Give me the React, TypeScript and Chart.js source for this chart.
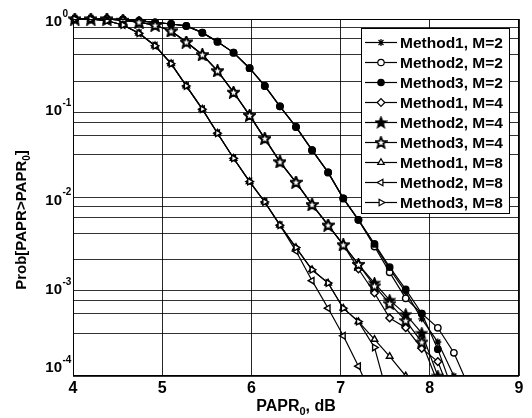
import React, { useEffect, useRef } from 'react';
import { Chart, registerables } from 'chart.js';
import { drawPoint } from 'chart.js/helpers';

Chart.register(...registerables);

const FONT = "'Liberation Sans', Arial, Helvetica, sans-serif";

// PAPR0 sample points (dB)
const X_DB = [4.02, 4.2, 4.38, 4.56, 4.74, 4.92, 5.1, 5.27, 5.45, 5.62, 5.8, 5.98, 6.15, 6.32, 6.5, 6.68, 6.86, 7.03, 7.2, 7.38, 7.55, 7.73, 7.91, 8.09, 8.27, 8.45];

const X_TICKS = [4, 5, 6, 7, 8, 9];
const Y_DECADES = [0, -1, -2, -3, -4];

// CCDF values, Prob[PAPR > PAPR0]
const M2_METHOD1 = [1, 1, 1, 0.989, 0.955, 0.918, 0.879, 0.836, 0.703, 0.557, 0.42, 0.281, 0.178, 0.105, 0.0617, 0.0339, 0.0191, 0.00977, 0.00562, 0.00295, 0.00158, 0.00087, 0.000437, 0.00024, 0.0001, 0.00004];
const M2_METHOD2 = [1, 1, 1, 0.989, 0.955, 0.918, 0.879, 0.836, 0.703, 0.557, 0.42, 0.281, 0.178, 0.105, 0.0617, 0.0339, 0.0191, 0.00977, 0.00562, 0.00282, 0.00145, 0.000741, 0.000501, 0.000347, 0.000182, 0.0000708];
const M2_METHOD3 = [1, 1, 1, 0.989, 0.955, 0.918, 0.879, 0.836, 0.703, 0.557, 0.42, 0.281, 0.178, 0.105, 0.0617, 0.0339, 0.0191, 0.00977, 0.00562, 0.00302, 0.00166, 0.000933, 0.000501, 0.0002, 0.000063];

const M4_METHOD1 = [1, 1, 1, 0.966, 0.923, 0.851, 0.735, 0.552, 0.398, 0.263, 0.151, 0.0832, 0.0457, 0.0251, 0.0148, 0.00832, 0.0049, 0.00295, 0.00158, 0.000851, 0.000447, 0.000347, 0.000204, 0.000145, 0.00005];
const M4_METHOD2 = [1, 1, 1, 0.966, 0.923, 0.851, 0.735, 0.552, 0.398, 0.263, 0.151, 0.0832, 0.0457, 0.0251, 0.0148, 0.00832, 0.0049, 0.00295, 0.00178, 0.0011, 0.000708, 0.00049, 0.000302, 0.0001];
const M4_METHOD3 = [1, 1, 1, 0.966, 0.923, 0.851, 0.735, 0.552, 0.398, 0.263, 0.151, 0.0832, 0.0457, 0.0251, 0.0148, 0.00832, 0.0049, 0.00295, 0.00178, 0.00102, 0.000646, 0.000417, 0.00024, 0.0000832];

const M8_METHOD1 = [1, 1, 0.955, 0.857, 0.692, 0.501, 0.316, 0.178, 0.0977, 0.0525, 0.0275, 0.0151, 0.00891, 0.0049, 0.00275, 0.00155, 0.0011, 0.000575, 0.000407, 0.000257, 0.000166, 0.0001];
const M8_METHOD2 = [1, 1, 0.955, 0.857, 0.692, 0.501, 0.316, 0.178, 0.0977, 0.0525, 0.0275, 0.0151, 0.00891, 0.0049, 0.00251, 0.00117, 0.000575, 0.000282, 0.000129, 0.00005];
const M8_METHOD3 = [1, 1, 0.955, 0.857, 0.692, 0.501, 0.316, 0.178, 0.0977, 0.0525, 0.0275, 0.0151, 0.00891, 0.0049, 0.00275, 0.00155, 0.0011, 0.000575, 0.000407, 0.000209, 0.00005];

const LABELS = ['Method1, M=2', 'Method2, M=2', 'Method3, M=2', 'Method1, M=4', 'Method2, M=4', 'Method3, M=4', 'Method1, M=8', 'Method2, M=8', 'Method3, M=8'];

function makeStar(filled: boolean): HTMLCanvasElement {
  const c = document.createElement('canvas');
  c.width = 13;
  c.height = 13;
  const g = c.getContext('2d')!;
  g.beginPath();
  for (let i = 0; i < 10; i++) {
    const r = i % 2 === 0 ? 5.8 : 2.5;
    const a = -Math.PI / 2 + (i * Math.PI) / 5;
    const px = 6.5 + r * Math.cos(a);
    const py = 6.8 + r * Math.sin(a);
    if (i === 0) g.moveTo(px, py);
    else g.lineTo(px, py);
  }
  g.closePath();
  g.fillStyle = filled ? '#000' : '#fff';
  g.fill();
  g.strokeStyle = '#000';
  g.lineWidth = filled ? 1.3 : 1.8;
  g.stroke();
  return c;
}

export default function App() {
  const ref = useRef<HTMLCanvasElement | null>(null);

  useEffect(() => {
    document.body.style.margin = '0';
    const canvas = ref.current!;
    const starFilled = makeStar(true);
    const starOpen = makeStar(false);

    const styles: any[] = [
      { pointStyle: 'star', bg: '#000', rot: 0, r: 3.5 },
      { pointStyle: 'circle', bg: '#fff', rot: 0, r: 3.2 },
      { pointStyle: 'circle', bg: '#000', rot: 0, r: 3.2 },
      { pointStyle: 'rectRot', bg: '#fff', rot: 0, r: 3.8 },
      { pointStyle: starFilled, bg: '#000', rot: 0, r: 4 },
      { pointStyle: starOpen, bg: '#fff', rot: 0, r: 4 },
      { pointStyle: 'triangle', bg: '#fff', rot: 0, r: 3.8 },
      { pointStyle: 'triangle', bg: '#fff', rot: 270, r: 3.8 },
      { pointStyle: 'triangle', bg: '#fff', rot: 90, r: 3.8 },
    ];
    const series = [M2_METHOD1, M2_METHOD2, M2_METHOD3, M4_METHOD1, M4_METHOD2, M4_METHOD3, M8_METHOD1, M8_METHOD2, M8_METHOD3];

    const datasets = series.map((ys, k) => ({
      label: LABELS[k],
      data: ys.map((y, i) => ({ x: X_DB[i], y })),
      order: series.length - k,
      borderColor: '#000',
      borderWidth: 1.2,
      pointStyle: styles[k].pointStyle,
      pointRotation: styles[k].rot,
      pointRadius: styles[k].r,
      pointBackgroundColor: styles[k].bg,
      pointBorderColor: '#000',
      pointBorderWidth: 1.4,
      tension: 0,
      clip: { left: 8, top: 8, right: 0, bottom: 0 },
    }));

    const yTicks: number[] = [];
    for (let e = -4; e < 0; e++) {
      for (let m = 1; m <= 9; m++) yTicks.push(m * Math.pow(10, e));
    }
    yTicks.push(1);

    const custom = {
      id: 'custom',
      afterDraw(chart: any) {
        const { ctx, chartArea: a, scales } = chart;
        ctx.save();
        // frame
        ctx.strokeStyle = '#000';
        ctx.lineWidth = 1;
        ctx.strokeRect(Math.round(a.left) + 0.5, Math.round(a.top) + 0.5, Math.round(a.right - a.left) - 1, Math.round(a.bottom - a.top) - 1);

        // y tick labels 10^n
        ctx.fillStyle = '#000';
        Y_DECADES.forEach((e) => {
          const y = scales.y.getPixelForValue(Math.pow(10, e));
          const cy = Math.min(y + 3, a.bottom - 8);
          ctx.font = `bold 15px ${FONT}`;
          ctx.textAlign = 'right';
          ctx.textBaseline = 'middle';
          ctx.fillText('10', 62, cy);
          ctx.font = `bold 10px ${FONT}`;
          ctx.textAlign = 'left';
          ctx.fillText(String(e), 62.5, cy - 8);
        });

        // x title
        ctx.textBaseline = 'alphabetic';
        const big = `bold 16px ${FONT}`;
        const small = `bold 11px ${FONT}`;
        ctx.font = big;
        const w1 = ctx.measureText('PAPR').width;
        const w3 = ctx.measureText(', dB').width;
        ctx.font = small;
        const w2 = ctx.measureText('0').width;
        const x0 = (a.left + a.right) / 2 - (w1 + w2 + w3) / 2;
        const by = 411;
        ctx.textAlign = 'left';
        ctx.font = big;
        ctx.fillText('PAPR', x0, by);
        ctx.font = small;
        ctx.fillText('0', x0 + w1, by + 4);
        ctx.font = big;
        ctx.fillText(', dB', x0 + w1 + w2, by);

        // y title
        ctx.save();
        ctx.translate(26, 220);
        ctx.rotate(-Math.PI / 2);
        const yb = `bold 15px ${FONT}`;
        const ys = `bold 10px ${FONT}`;
        ctx.font = yb;
        const t1 = ctx.measureText('Prob[PAPR>PAPR').width;
        const t3 = ctx.measureText(']').width;
        ctx.font = ys;
        const t2 = ctx.measureText('0').width;
        const sx = -(t1 + t2 + t3) / 2;
        ctx.font = yb;
        ctx.fillText('Prob[PAPR>PAPR', sx, 0);
        ctx.font = ys;
        ctx.fillText('0', sx + t1, 4);
        ctx.font = yb;
        ctx.fillText(']', sx + t1 + t2, 0);
        ctx.restore();

        // legend
        const lx = 361, ly = 28, lw = 148, rowH = 20, firstRow = 42;
        const n = chart.data.datasets.length;
        const lh = firstRow - ly + (n - 1) * rowH + 11;
        ctx.fillStyle = '#fff';
        ctx.fillRect(lx, ly, lw, lh);
        ctx.strokeStyle = '#000';
        ctx.lineWidth = 1;
        ctx.strokeRect(lx + 0.5, ly + 0.5, lw, lh);
        chart.data.datasets.forEach((ds: any, i: number) => {
          const ry = firstRow + i * rowH;
          ctx.strokeStyle = '#000';
          ctx.lineWidth = 1.2;
          ctx.beginPath();
          ctx.moveTo(365, ry + 0.5);
          ctx.lineTo(397, ry + 0.5);
          ctx.stroke();
          ctx.fillStyle = ds.pointBackgroundColor;
          ctx.strokeStyle = '#000';
          drawPoint(ctx, { pointStyle: ds.pointStyle, rotation: ds.pointRotation, radius: ds.pointRadius, borderWidth: 1.4 } as any, 381, ry + 0.5);
          ctx.fillStyle = '#000';
          ctx.font = `bold 15.5px ${FONT}`;
          ctx.textAlign = 'left';
          ctx.textBaseline = 'alphabetic';
          ctx.fillText(ds.label, 400, ry + 5.5);
        });
        ctx.restore();
      },
    };

    const chart = new Chart(canvas, {
      type: 'line',
      data: { datasets: datasets as any },
      plugins: [custom],
      options: {
        animation: false,
        responsive: false,
        devicePixelRatio: 1,
        layout: { padding: { top: 19, right: 13, left: 0, bottom: 0 } },
        plugins: { legend: { display: false }, tooltip: { enabled: false } },
        scales: {
          x: {
            type: 'linear',
            min: 4,
            max: 9,
            afterBuildTicks: (s: any) => {
              s.ticks = X_TICKS.map((v) => ({ value: v }));
            },
            afterFit: (s: any) => {
              s.height = 42;
            },
            ticks: {
              color: '#000',
              font: { family: FONT, size: 16, weight: 'bold' },
              padding: 3,
              maxRotation: 0,
            },
            grid: { color: 'rgba(0,0,0,0.85)', lineWidth: 1, drawTicks: false },
            border: { display: false },
          },
          y: {
            type: 'logarithmic',
            min: 0.0001,
            max: 1,
            afterBuildTicks: (s: any) => {
              s.ticks = yTicks.map((v) => ({ value: v }));
            },
            afterFit: (s: any) => {
              s.width = 73;
            },
            ticks: { callback: () => '', padding: 0 },
            grid: { color: 'rgba(0,0,0,0.8)', lineWidth: 1, drawTicks: false },
            border: { display: false },
          },
        },
      },
    });
    return () => chart.destroy();
  }, []);

  return (
    <div style={{ width: 532, height: 418 }}>
      <canvas ref={ref} width={532} height={418} />
    </div>
  );
}
